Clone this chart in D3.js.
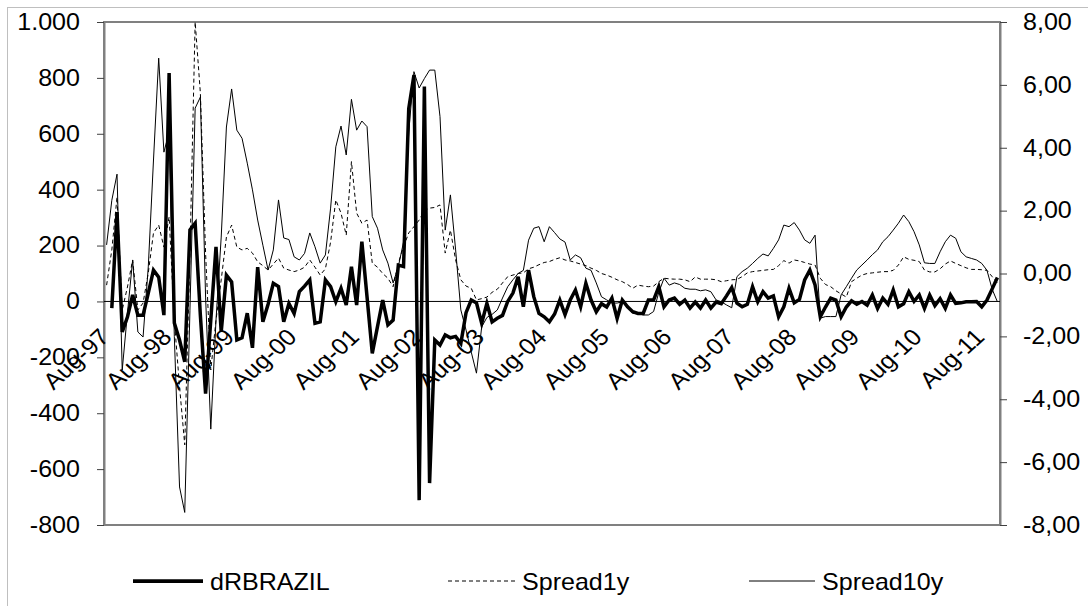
<!DOCTYPE html>
<html>
<head>
<meta charset="utf-8">
<script src="https://cdn.jsdelivr.net/npm/d3@7"></script>
<style>
  body { margin: 0; background: #fff; }
  svg { display: block; }
  text { font-family: "Liberation Sans", Arial, sans-serif; fill: #000; }
</style>
</head>
<body>
<svg id="chart" width="1088" height="606"></svg>
<script>
// Monthly categories, Aug-97 .. Nov-11 (172 months)
const months = d3.timeMonth.range(new Date(1997, 7, 1), new Date(2011, 11, 1));

// Tick labels shown on the category axis (every 12th month)
const tickLabels = ["Aug-97", "Aug-98", "Aug-99", "Aug-00", "Aug-01", "Aug-02", "Aug-03",
  "Aug-04", "Aug-05", "Aug-06", "Aug-07", "Aug-08", "Aug-09", "Aug-10", "Aug-11"];

// Axis ticks
const leftTicks = [-800, -600, -400, -200, 0, 200, 400, 600, 800, 1000];
const rightTicks = [-8, -6, -4, -2, 0, 2, 4, 6, 8];

// dRBRAZIL (left axis, first month has no value)
const dRBRAZIL = [null, -24, 320, -109, -56, 23, -49, -49, 30, 112, 87, -49,
  817, -77, -138, -216, 256, 280, -50, -330, -66, 195, -109, 94,
  70, -138, -130, -42, -166, 123, -73, -10, 65, 53, -73, -7,
  -43, 35, 55, 77, -78, -73, 77, 53, -1, 47, -13, 124,
  -13, 214, 15, -186, -90, 5, -84, -67, 130, 125, 690, 810,
  -711, 769, -650, -138, -156, -120, -130, -125, -150, -40, 5, -5,
  -78, -7, -73, -60, -50, 0, 30, 88, -19, 112, 17, -43,
  -55, -73, -45, 5, -47, 5, 41, -19, 65, 5, -37, -8,
  -20, 12, -61, 5, -19, -37, -43, -43, 5, 5, 53, -19,
  5, 12, -10, 5, -24, -2, -24, 5, -24, -2, -8, 20,
  50, -6, -19, -10, 53, -1, 35, 12, 20, -55, -19, 47,
  -5, 7, 77, 112, 59, -55, -20, 12, 5, -55, -20, 2,
  -10, 0, -13, 23, -25, 12, -10, 41, -19, -8, 35, 0,
  23, -25, 23, -15, 10, -25, 23, -7, -5, -1, -1, 0,
  -19, 5, 45, 86];

// Spread1y (right axis)
const spread1y = [-0.37, 0.75, 2.43, -1.16, -0.43, 0.43, -1.16, -0.94, 0.02, 1.29, 1.54, 0.84,
  1.8, -1.48, -3.6, -5.45, 0.65, 8.0, 5.74, 0.65, -3.07, -1.48, -0.2, 1.16,
  1.54, 0.84, 0.75, 0.8, 0.65, 0.37, 0.25, 0.11, 0.3, 0.49, 0.17, 0.11,
  0.06, 0.11, 0.2, 0.43, 0.2, -0.05, 0.15, 1.0, 2.34, 1.92, 1.22, 3.56,
  1.92, 1.6, 1.7, 0.33, 0.2, 0.0, -0.15, -0.42, 0.33, 0.85, 1.29, 1.49,
  1.7, 2.0, 2.08, 2.1, 2.18, 0.65, 1.38, 0.43, -0.2, -0.4, -0.47, -0.84,
  -0.8, -0.75, -0.6, -0.5, -0.3, -0.1, -0.05, 0.0, 0.02, 0.15, 0.2, 0.28,
  0.35, 0.38, 0.45, 0.5, 0.43, 0.4, 0.35, 0.3, 0.25, 0.17, 0.1, 0.0,
  -0.05, -0.12, -0.2, -0.26, -0.35, -0.47, -0.37, -0.4, -0.42, -0.4, -0.26, -0.15,
  -0.17, -0.18, -0.18, -0.2, -0.26, -0.11, -0.18, -0.18, -0.18, -0.2, -0.26, -0.23,
  -0.2, -0.19, -0.1, 0.02, 0.06, 0.08, 0.1, 0.12, 0.13, 0.25, 0.41, 0.33,
  0.43, 0.4, 0.35, 0.3, 0.27, -0.15, -0.35, -0.42, -0.55, -0.65, -0.75, -0.26,
  -0.15, -0.05, 0.0, 0.02, 0.04, 0.06, 0.06, 0.1, 0.27, 0.53, 0.45, 0.42,
  0.38, 0.11, 0.05, 0.05, 0.15, 0.3, 0.4, 0.32, 0.25, 0.18, 0.13, 0.13,
  0.12, 0.1, -0.1, -0.3];

// Spread10y (right axis)
const spread10y = [0.91, 2.33, 3.16, -3.07, -1.26, 0.43, -1.86, -2.02, 0.21, 3.61, 6.85, 3.86,
  4.5, -2.0, -6.79, -7.6, -1.17, 5.26, 5.61, -0.75, -4.95, -1.48, 1.16, 4.66,
  5.87, 4.56, 4.3, 3.51, 2.66, 1.7, 0.9, 0.11, 0.75, 2.34, 1.13, 1.08,
  0.53, 0.43, 0.64, 1.29, 0.85, 0.33, 0.59, 2.08, 4.03, 4.69, 3.77, 5.54,
  4.56, 4.85, 4.67, 1.81, 1.44, 0.75, 0.33, -0.3, 0.22, 1.0, 4.5, 6.42,
  5.9, 6.2, 6.47, 6.47, 4.99, 1.38, 2.5, 0.75, -1.16, -1.8, -2.5, -3.17,
  -1.7, -1.4, -1.3, -1.16, -0.78, -0.42, -0.2, 0.0, 0.1, 1.06, 1.44, 1.49,
  1.01, 1.49, 1.3, 1.1, 1.0, 0.43, 0.59, 0.5, 0.17, 0.1, -0.3, -0.74,
  -0.84, -0.94, -0.94, -0.9, -1.06, -1.27, -1.27, -1.32, -1.32, -1.21, -0.6, -0.15,
  -0.37, -0.3, -0.35, -0.47, -0.5, -0.5, -0.55, -0.52, -0.58, -0.84, -0.9, -1.0,
  -1.09, -0.1, 0.06, 0.17, 0.32, 0.48, 0.62, 0.56, 0.8, 1.07, 1.54, 1.49,
  1.62, 1.38, 1.07, 0.96, 1.22, -1.42, -1.37, -1.37, -1.37, -0.68, -0.42, -0.15,
  0.11, 0.27, 0.43, 0.6, 0.75, 1.01, 1.17, 1.38, 1.6, 1.86, 1.65, 1.33,
  0.91, 0.34, 0.32, 0.32, 0.69, 1.01, 1.22, 1.12, 0.69, 0.53, 0.48, 0.43,
  0.32, 0.1, -0.5, -0.9];

const seriesNames = ["dRBRAZIL", "Spread1y", "Spread10y"];

// Layout
const plot = { left: 104, right: 1000, top: 22, bottom: 525 };
const fontSize = 23;
const stretch = 1.09; // the reference text is slightly wide

const svg = d3.select("#chart");
const locale = d3.formatLocale({ decimal: ",", thousands: ".", grouping: [3], currency: ["", ""], minus: "-" });

// Outer chart border (only top and left fall inside the view)
svg.append("rect")
  .attr("x", 7.5).attr("y", 7.5)
  .attr("width", 1200).attr("height", 800)
  .attr("fill", "#fff")
  .attr("stroke", "#bfbfbf");

// Scales
const x = d3.scaleBand()
  .domain(months.map((d, i) => i))
  .range([plot.left, plot.right]);
const xc = i => x(i) + x.bandwidth() / 2;

const yLeft = d3.scaleLinear().domain([-800, 1000]).range([plot.bottom, plot.top]);
const yRight = d3.scaleLinear().domain([-8, 8]).range([plot.bottom, plot.top]);

// Plot area frame
svg.append("rect")
  .attr("x", plot.left).attr("y", plot.top)
  .attr("width", plot.right - plot.left).attr("height", plot.bottom - plot.top)
  .attr("fill", "none")
  .attr("stroke", "#808080")
  .attr("stroke-width", 2);

// Left axis
const leftAxis = svg.append("g")
  .attr("transform", `translate(${plot.left},0)`)
  .call(d3.axisLeft(yLeft).tickValues(leftTicks).tickSize(7).tickSizeOuter(0)
    .tickFormat(locale.format(",d")));
leftAxis.select(".domain").attr("stroke", "#808080").attr("stroke-width", 2);
leftAxis.selectAll(".tick line").attr("stroke", "#404040");
leftAxis.selectAll(".tick text")
  .attr("x", 0)
  .attr("transform", `translate(-24,0) scale(${stretch},1)`)
  .style("font-size", fontSize + "px");

// Right axis
const rightAxis = svg.append("g")
  .attr("transform", `translate(${plot.right},0)`)
  .call(d3.axisRight(yRight).tickValues(rightTicks).tickSize(7).tickSizeOuter(0)
    .tickFormat(locale.format(",.2f")));
rightAxis.select(".domain").attr("stroke", "#808080").attr("stroke-width", 2);
rightAxis.selectAll(".tick line").attr("stroke", "#404040");
rightAxis.selectAll(".tick text")
  .attr("x", 0)
  .attr("transform", `translate(23,0) scale(${stretch},1)`)
  .style("font-size", fontSize + "px");

svg.selectAll(".tick text").attr("fill", "#000").attr("font-family", null);

// Category axis crossing at zero
svg.append("line")
  .attr("x1", plot.left).attr("x2", plot.right)
  .attr("y1", yLeft(0)).attr("y2", yLeft(0))
  .attr("stroke", "#000")
  .attr("stroke-width", 1);

// Rotated month labels
svg.append("g")
  .selectAll("text")
  .data(tickLabels)
  .join("text")
  .attr("transform", (d, k) => `translate(${xc(k * 12) + 4},${yLeft(0) + 37}) scale(${stretch},1) rotate(-45)`)
  .attr("text-anchor", "end")
  .style("font-size", fontSize + "px")
  .text(d => d);

// Series lines
const lineLeft = d3.line()
  .defined(d => d != null)
  .x((d, i) => xc(i))
  .y(d => yLeft(d));

const lineRight = d3.line()
  .x((d, i) => xc(i))
  .y(d => yRight(d));

svg.append("path")
  .datum(spread1y)
  .attr("d", lineRight)
  .attr("fill", "none")
  .attr("stroke", "#000")
  .attr("stroke-width", 1)
  .attr("stroke-dasharray", "4,3");

svg.append("path")
  .datum(spread10y)
  .attr("d", lineRight)
  .attr("fill", "none")
  .attr("stroke", "#000")
  .attr("stroke-width", 1);

svg.append("path")
  .datum(dRBRAZIL)
  .attr("d", lineLeft)
  .attr("fill", "none")
  .attr("stroke", "#000")
  .attr("stroke-width", 3.5)
  .attr("stroke-linejoin", "miter");

// Legend
const legendItems = [
  { name: seriesNames[0], x1: 133, x2: 203, width: 3.75, dash: null },
  { name: seriesNames[1], x1: 448, x2: 515, width: 1, dash: "4,3" },
  { name: seriesNames[2], x1: 749, x2: 815, width: 1, dash: null }
];
const legendY = 581;

const legend = svg.append("g");
legendItems.forEach(item => {
  legend.append("line")
    .attr("x1", item.x1).attr("x2", item.x2)
    .attr("y1", legendY).attr("y2", legendY)
    .attr("stroke", "#000")
    .attr("stroke-width", item.width)
    .attr("stroke-dasharray", item.dash);
  legend.append("text")
    .attr("transform", `translate(${item.x2 + 7},${legendY + 9}) scale(${stretch},1)`)
    .style("font-size", fontSize + "px")
    .text(item.name);
});
</script>
</body>
</html>
